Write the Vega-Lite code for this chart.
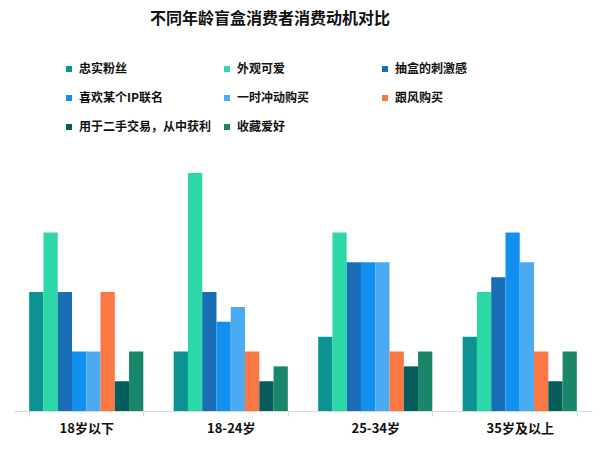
{
  "$schema": "https://vega.github.io/schema/vega-lite/v6.json",
  "width": 578,
  "height": 238,
  "autosize": {"type": "none"},
  "padding": {"left": 14, "top": 173, "right": 8, "bottom": 43},
  "background": "white",
  "title": {
    "text": "不同年龄盲盒消费者消费动机对比",
    "anchor": "start",
    "frame": "group",
    "dx": 136,
    "fontSize": 16,
    "fontWeight": "bold",
    "font": "Noto Sans CJK SC",
    "color": "#111111",
    "offset": 36
  },
  "config": {
    "view": {"stroke": null},
    "font": "Noto Sans CJK SC"
  },
  "data": {
    "values": [
      {"age": "18岁以下", "motive": "忠实粉丝", "v": 4},
      {"age": "18岁以下", "motive": "外观可爱", "v": 6},
      {"age": "18岁以下", "motive": "抽盒的刺激感", "v": 4},
      {"age": "18岁以下", "motive": "喜欢某个IP联名", "v": 2},
      {"age": "18岁以下", "motive": "一时冲动购买", "v": 2},
      {"age": "18岁以下", "motive": "跟风购买", "v": 4},
      {"age": "18岁以下", "motive": "用于二手交易，从中获利", "v": 1},
      {"age": "18岁以下", "motive": "收藏爱好", "v": 2},
      {"age": "18-24岁", "motive": "忠实粉丝", "v": 2},
      {"age": "18-24岁", "motive": "外观可爱", "v": 8},
      {"age": "18-24岁", "motive": "抽盒的刺激感", "v": 4},
      {"age": "18-24岁", "motive": "喜欢某个IP联名", "v": 3},
      {"age": "18-24岁", "motive": "一时冲动购买", "v": 3.5},
      {"age": "18-24岁", "motive": "跟风购买", "v": 2},
      {"age": "18-24岁", "motive": "用于二手交易，从中获利", "v": 1},
      {"age": "18-24岁", "motive": "收藏爱好", "v": 1.5},
      {"age": "25-34岁", "motive": "忠实粉丝", "v": 2.5},
      {"age": "25-34岁", "motive": "外观可爱", "v": 6},
      {"age": "25-34岁", "motive": "抽盒的刺激感", "v": 5},
      {"age": "25-34岁", "motive": "喜欢某个IP联名", "v": 5},
      {"age": "25-34岁", "motive": "一时冲动购买", "v": 5},
      {"age": "25-34岁", "motive": "跟风购买", "v": 2},
      {"age": "25-34岁", "motive": "用于二手交易，从中获利", "v": 1.5},
      {"age": "25-34岁", "motive": "收藏爱好", "v": 2},
      {"age": "35岁及以上", "motive": "忠实粉丝", "v": 2.5},
      {"age": "35岁及以上", "motive": "外观可爱", "v": 4},
      {"age": "35岁及以上", "motive": "抽盒的刺激感", "v": 4.5},
      {"age": "35岁及以上", "motive": "喜欢某个IP联名", "v": 6},
      {"age": "35岁及以上", "motive": "一时冲动购买", "v": 5},
      {"age": "35岁及以上", "motive": "跟风购买", "v": 2},
      {"age": "35岁及以上", "motive": "用于二手交易，从中获利", "v": 1},
      {"age": "35岁及以上", "motive": "收藏爱好", "v": 2}
    ]
  },
  "mark": {"type": "bar"},
  "encoding": {
    "x": {
      "field": "age",
      "type": "nominal",
      "sort": ["18岁以下", "18-24岁", "25-34岁", "35岁及以上"],
      "scale": {"paddingInner": 0.21, "paddingOuter": 0.105},
      "axis": {
        "title": null,
        "labelAngle": 0,
        "labelFontSize": 13,
        "labelFontWeight": "bold",
        "labelColor": "#111111",
        "labelPadding": 6,
        "domainColor": "#d9d9d9",
        "tickColor": "#d9d9d9",
        "tickSize": 5,
        "tickBand": "extent"
      }
    },
    "xOffset": {
      "field": "motive",
      "type": "nominal",
      "sort": ["忠实粉丝", "外观可爱", "抽盒的刺激感", "喜欢某个IP联名", "一时冲动购买", "跟风购买", "用于二手交易，从中获利", "收藏爱好"]
    },
    "y": {
      "field": "v",
      "type": "quantitative",
      "scale": {"domain": [0, 8], "nice": false},
      "axis": null
    },
    "color": {
      "field": "motive",
      "type": "nominal",
      "sort": ["忠实粉丝", "外观可爱", "抽盒的刺激感", "喜欢某个IP联名", "一时冲动购买", "跟风购买", "用于二手交易，从中获利", "收藏爱好"],
      "scale": {
        "domain": ["忠实粉丝", "外观可爱", "抽盒的刺激感", "喜欢某个IP联名", "一时冲动购买", "跟风购买", "用于二手交易，从中获利", "收藏爱好"],
        "range": ["#0b9393", "#2dd8a8", "#186fb5", "#1290f2", "#4aabf2", "#fb7844", "#065d5b", "#19866a"]
      },
      "legend": {
        "title": null,
        "orient": "none",
        "direction": "horizontal",
        "legendX": 49,
        "legendY": -110,
        "columns": 3,
        "gridAlign": "all",
        "columnPadding": 9,
        "rowPadding": 17,
        "padding": 0,
        "symbolType": "square",
        "symbolSize": 36,
        "symbolStrokeWidth": 0,
        "symbolOpacity": 1,
        "labelFontSize": 12,
        "labelFontWeight": "bold",
        "labelColor": "#111111",
        "labelOffset": 4,
        "labelLimit": 200
      }
    }
  }
}
